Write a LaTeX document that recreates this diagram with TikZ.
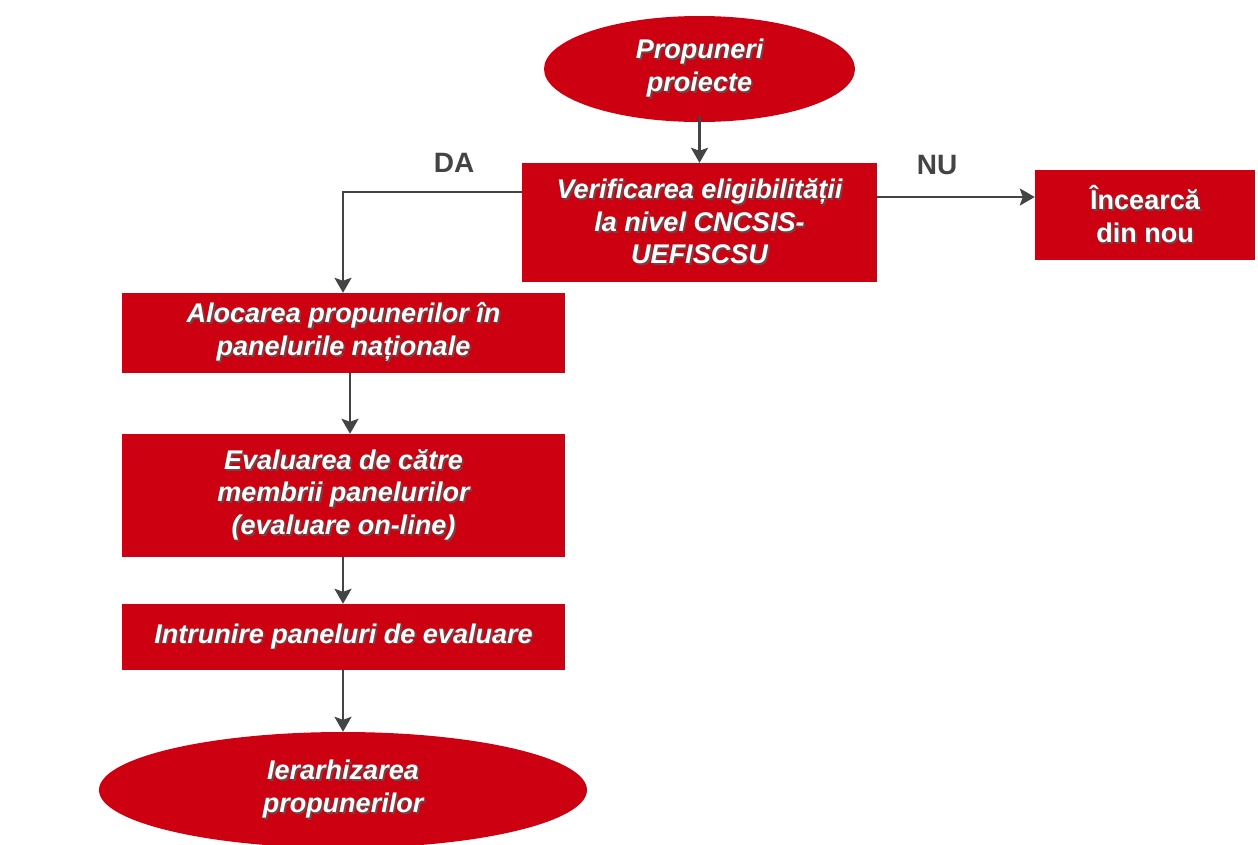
\documentclass[tikz,border=0pt]{standalone}
\usepackage{fontspec}
\setmainfont{Liberation Sans}
\usetikzlibrary{shapes.geometric,arrows.meta}
\definecolor{boxred}{RGB}{204,0,17}
\definecolor{linegray}{RGB}{68,68,68}
\definecolor{shadowgray}{RGB}{110,70,70}
\newcommand\shtxt[1]{\leavevmode\rlap{\hspace{1.8pt}\raisebox{-1.8pt}{\textcolor{shadowgray}{#1}}}#1}
\tikzset{
  redbox/.style={rectangle,fill=boxred,draw=none,text=white,align=center,inner sep=0pt,
    font=\fontsize{27}{32.5}\selectfont\bfseries\itshape},
  redell/.style={ellipse,fill=boxred,draw=none,text=white,align=center,inner sep=0pt,
    font=\fontsize{27}{32.5}\selectfont\bfseries\itshape},
  conn/.style={draw=linegray,line width=2.4pt,-{Stealth[width=17pt,length=15pt,inset=3pt]}},
  lbl/.style={text=linegray,font=\fontsize{28}{32}\selectfont\bfseries}
}
\begin{document}
\begin{tikzpicture}[x=1pt,y=-1pt]
\useasboundingbox[fill=white] (0,0) rectangle (1258,844);
\node[redell,minimum width=311pt,minimum height=106pt] (start) at (699.5,69) {\shtxt{Propuneri}\\\shtxt{proiecte}};
\node[redbox,minimum width=355pt,minimum height=119pt] (verif) at (699.5,222.5) {\shtxt{Verificarea eligibilității}\\\shtxt{la nivel CNCSIS-}\\\shtxt{UEFISCSU}};
\node[redbox,minimum width=220pt,minimum height=90pt,font=\fontsize{27}{32.5}\selectfont\bfseries] (retry) at (1145,215) {\shtxt{Încearcă}\\\shtxt{din nou}};
\node[redbox,minimum width=443pt,minimum height=80pt] (aloc) at (343.5,333) {\shtxt{Alocarea propunerilor în}\\\shtxt{panelurile naționale}};
\node[redbox,minimum width=443pt,minimum height=123pt] (eval) at (343.5,495.5) {\shtxt{Evaluarea de către}\\\shtxt{membrii panelurilor}\\\shtxt{(evaluare on-line)}};
\node[redbox,minimum width=443pt,minimum height=66pt] (intr) at (343.5,637) {\shtxt{Intrunire paneluri de evaluare}};
\node[redell,minimum width=488pt,minimum height=116pt] (ier) at (343,790) {\shtxt{Ierarhizarea}\\\shtxt{propunerilor}};
\node[lbl] (da) at (454,163) {DA};
\node[lbl] (nu) at (937,165) {NU};
\coordinate (daCorner) at (343,192);
\draw[conn] (start.south -| verif.north) ++(0,-6) -- (verif.north);
\draw[conn] (verif.west |- daCorner) -- (daCorner) -- (aloc.north -| daCorner);
\draw[conn] (verif.east |- 0,197) -- (retry.west |- 0,197);
\draw[conn] (aloc.south -| 350,0) -- (eval.north -| 350,0);
\draw[conn] (eval.south -| 343,0) -- (intr.north -| 343,0);
\draw[conn] (intr.south -| 343,0) -- (ier.north);
\end{tikzpicture}
\end{document}
